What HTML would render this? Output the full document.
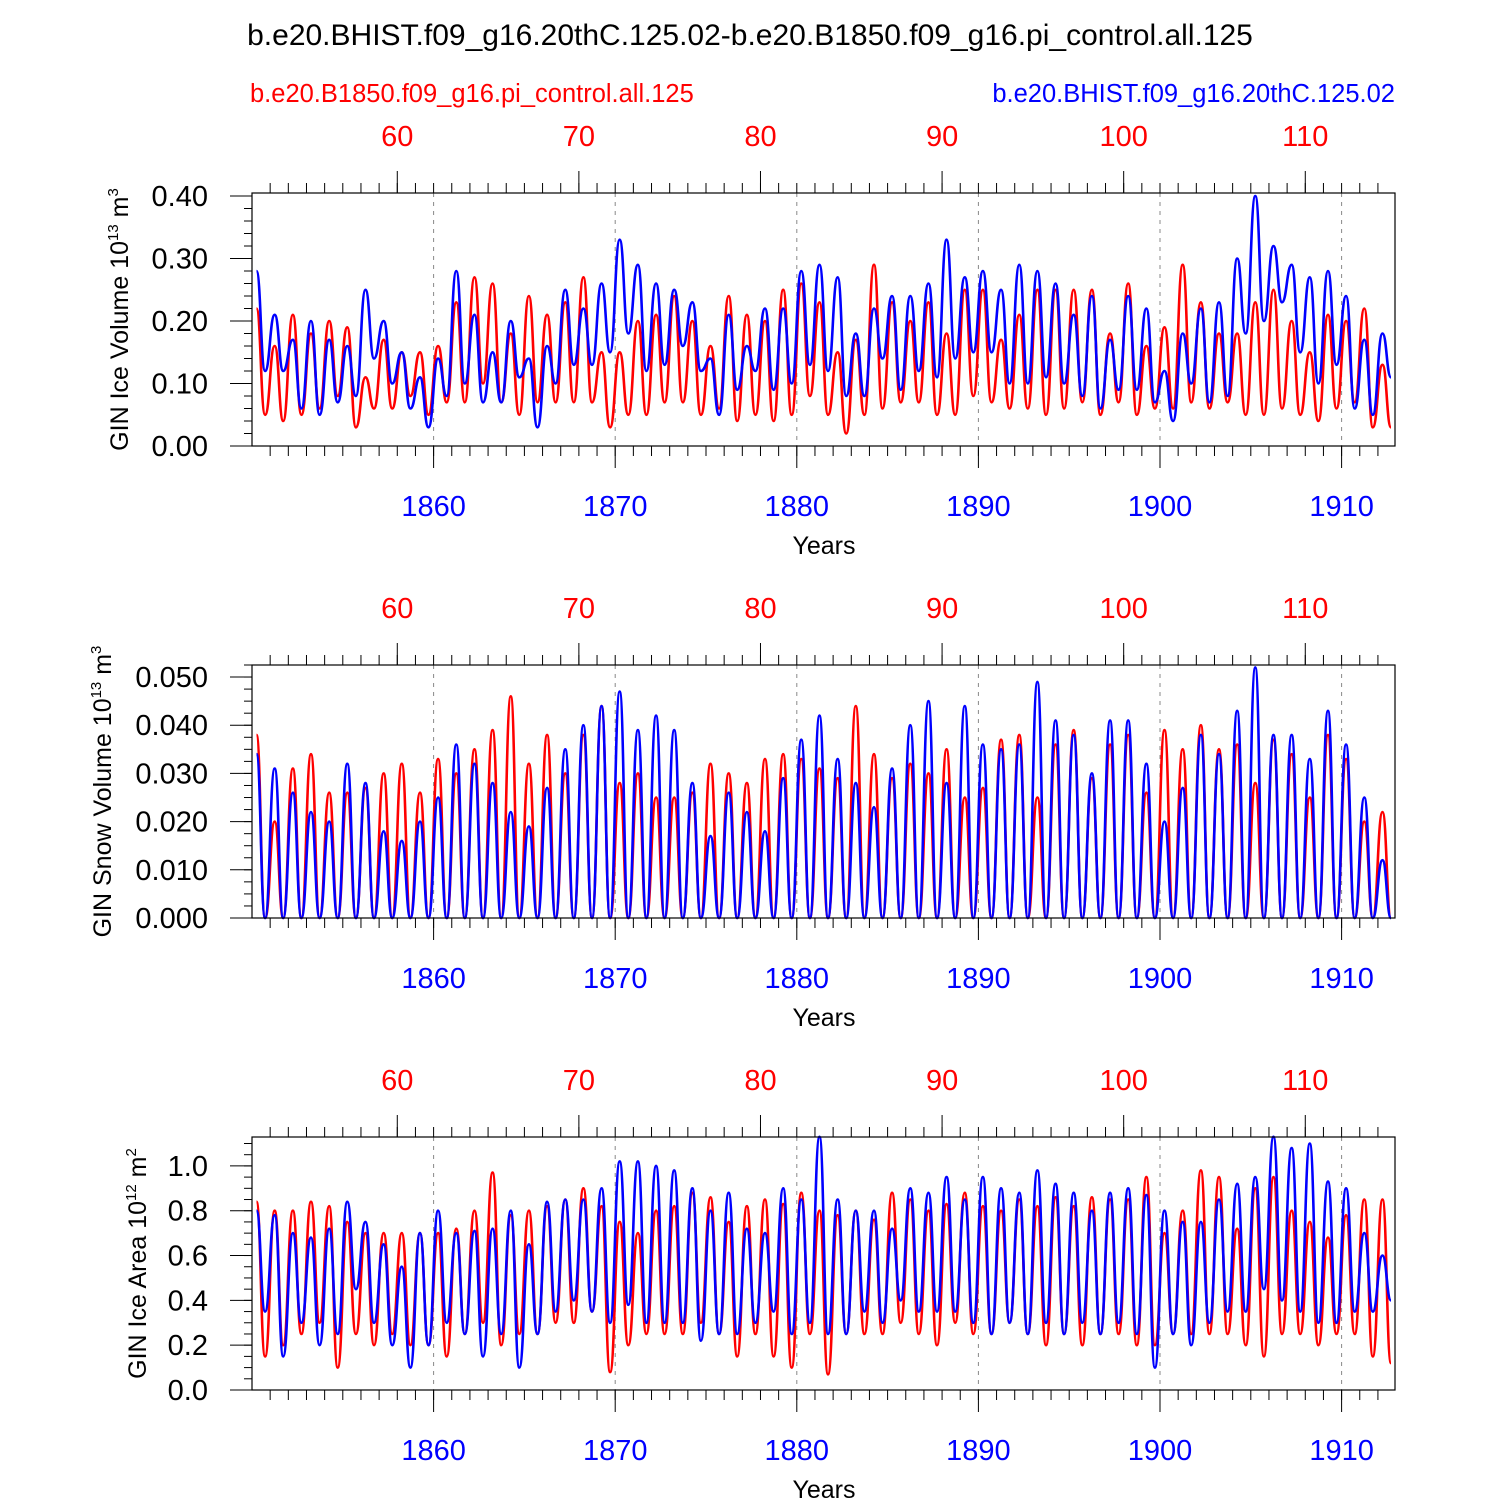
<!DOCTYPE html>
<html><head><meta charset="utf-8"><style>
body{margin:0;background:#fff;}
svg{display:block;font-family:"Liberation Sans",Arial,sans-serif;}
</style></head><body>
<svg id="chart" width="1500" height="1500" viewBox="0 0 1500 1500" xmlns="http://www.w3.org/2000/svg">
<text x="750" y="45" font-size="30" text-anchor="middle">b.e20.BHIST.f09_g16.20thC.125.02-b.e20.B1850.f09_g16.pi_control.all.125</text>
<text x="250" y="102" font-size="25.5" fill="#ff0000">b.e20.B1850.f09_g16.pi_control.all.125</text>
<text x="1395" y="102" font-size="25.5" fill="#0000ff" text-anchor="end">b.e20.BHIST.f09_g16.20thC.125.02</text>
<g id="plots"></g>
</svg>
<script>
const years = [1860,1870,1880,1890,1900,1910];
const modelYears = [60,70,80,90,100,110];
const iceVolTicks = [0,0.1,0.2,0.3,0.4];
const iceVolTickLabels = ["0.00","0.10","0.20","0.30","0.40"];
const snowTicks = [0,0.01,0.02,0.03,0.04,0.05];
const snowTickLabels = ["0.000","0.010","0.020","0.030","0.040","0.050"];
const areaTicks = [0,0.2,0.4,0.6,0.8,1.0];
const areaTickLabels = ["0.0","0.2","0.4","0.6","0.8","1.0"];

const iceVolBluePeak = [0.28,0.21,0.17,0.20,0.17,0.16,0.25,0.20,0.15,0.11,0.14,0.28,0.21,0.15,0.20,0.14,0.16,0.25,0.22,0.26,0.33,0.29,0.26,0.25,0.23,0.14,0.21,0.16,0.22,0.22,0.28,0.29,0.27,0.18,0.22,0.24,0.24,0.26,0.33,0.27,0.28,0.25,0.29,0.28,0.26,0.21,0.24,0.17,0.24,0.22,0.12,0.18,0.22,0.23,0.30,0.40,0.32,0.29,0.27,0.28,0.24,0.17,0.18];
const iceVolBlueTrough = [0.12,0.12,0.06,0.05,0.07,0.08,0.14,0.10,0.06,0.03,0.08,0.10,0.07,0.07,0.11,0.03,0.10,0.13,0.13,0.15,0.18,0.12,0.13,0.16,0.12,0.05,0.09,0.12,0.09,0.10,0.13,0.12,0.08,0.08,0.14,0.09,0.12,0.11,0.14,0.15,0.15,0.10,0.10,0.11,0.10,0.08,0.06,0.09,0.09,0.07,0.04,0.10,0.07,0.08,0.18,0.20,0.23,0.15,0.10,0.13,0.06,0.05,0.11];
const iceVolRedPeak = [0.22,0.16,0.21,0.18,0.20,0.19,0.11,0.17,0.15,0.15,0.16,0.23,0.27,0.26,0.18,0.24,0.21,0.23,0.27,0.15,0.15,0.20,0.21,0.24,0.20,0.16,0.24,0.21,0.20,0.25,0.26,0.23,0.15,0.17,0.29,0.23,0.20,0.23,0.18,0.25,0.25,0.17,0.21,0.25,0.25,0.25,0.25,0.18,0.26,0.16,0.19,0.29,0.23,0.18,0.18,0.23,0.25,0.20,0.15,0.21,0.20,0.22,0.13];
const iceVolRedTrough = [0.05,0.04,0.05,0.06,0.08,0.03,0.06,0.06,0.08,0.05,0.07,0.07,0.10,0.07,0.05,0.07,0.07,0.07,0.07,0.03,0.05,0.05,0.07,0.07,0.05,0.06,0.04,0.05,0.04,0.05,0.08,0.05,0.02,0.05,0.06,0.07,0.07,0.05,0.05,0.08,0.07,0.06,0.06,0.05,0.06,0.07,0.05,0.07,0.05,0.06,0.06,0.07,0.06,0.07,0.05,0.05,0.06,0.05,0.04,0.06,0.07,0.03,0.03];

const snowBluePeak = [0.034,0.031,0.026,0.022,0.020,0.032,0.028,0.018,0.016,0.020,0.025,0.036,0.032,0.028,0.022,0.019,0.027,0.035,0.040,0.044,0.047,0.039,0.042,0.039,0.028,0.017,0.026,0.022,0.018,0.029,0.037,0.042,0.033,0.028,0.023,0.031,0.040,0.045,0.028,0.044,0.036,0.035,0.036,0.049,0.041,0.038,0.030,0.041,0.041,0.032,0.020,0.027,0.038,0.034,0.043,0.052,0.038,0.038,0.033,0.043,0.036,0.025,0.012];
const snowBlueTrough = new Array(63).fill(0);
const snowRedPeak = [0.038,0.020,0.031,0.034,0.026,0.026,0.027,0.030,0.032,0.026,0.033,0.030,0.035,0.039,0.046,0.032,0.038,0.030,0.038,0.044,0.028,0.030,0.025,0.025,0.026,0.032,0.030,0.028,0.033,0.034,0.033,0.031,0.029,0.044,0.034,0.029,0.032,0.030,0.035,0.025,0.027,0.037,0.038,0.025,0.036,0.039,0.029,0.036,0.038,0.026,0.039,0.035,0.040,0.035,0.036,0.028,0.037,0.034,0.025,0.038,0.033,0.020,0.022];
const snowRedTrough = new Array(63).fill(0);

const areaBluePeak = [0.80,0.78,0.70,0.68,0.72,0.84,0.75,0.65,0.55,0.70,0.80,0.70,0.71,0.72,0.80,0.65,0.84,0.85,0.85,0.90,1.02,1.02,1.00,0.98,0.90,0.80,0.88,0.72,0.70,0.90,0.85,1.13,0.85,0.80,0.80,0.72,0.90,0.88,0.95,0.85,0.95,0.90,0.88,0.98,0.92,0.88,0.80,0.88,0.90,0.87,0.80,0.75,0.75,0.85,0.92,0.95,1.13,1.08,1.10,0.93,0.90,0.70,0.60];
const areaBlueTrough = [0.35,0.15,0.30,0.20,0.25,0.45,0.30,0.20,0.10,0.20,0.30,0.25,0.15,0.25,0.10,0.25,0.35,0.40,0.35,0.30,0.38,0.30,0.30,0.30,0.22,0.25,0.25,0.30,0.35,0.25,0.30,0.25,0.25,0.35,0.30,0.40,0.35,0.35,0.35,0.30,0.25,0.30,0.25,0.30,0.25,0.30,0.25,0.30,0.25,0.10,0.25,0.20,0.30,0.35,0.35,0.45,0.40,0.35,0.30,0.30,0.35,0.35,0.40];
const areaRedPeak = [0.84,0.80,0.80,0.84,0.82,0.75,0.70,0.70,0.70,0.70,0.70,0.72,0.80,0.97,0.78,0.80,0.82,0.85,0.90,0.82,0.75,0.70,0.80,0.82,0.88,0.86,0.75,0.82,0.85,0.83,0.88,0.80,0.78,0.80,0.76,0.88,0.85,0.80,0.83,0.88,0.82,0.80,0.85,0.82,0.86,0.82,0.86,0.85,0.85,0.95,0.70,0.80,0.98,0.95,0.72,0.90,0.95,0.80,0.75,0.68,0.78,0.85,0.85];
const areaRedTrough = [0.15,0.20,0.25,0.30,0.10,0.25,0.20,0.25,0.20,0.20,0.15,0.25,0.30,0.20,0.25,0.25,0.30,0.30,0.35,0.08,0.20,0.25,0.25,0.25,0.30,0.25,0.15,0.25,0.15,0.10,0.25,0.07,0.25,0.25,0.25,0.30,0.25,0.20,0.30,0.25,0.25,0.30,0.25,0.20,0.25,0.20,0.25,0.25,0.20,0.20,0.25,0.25,0.25,0.25,0.20,0.15,0.25,0.25,0.20,0.25,0.25,0.15,0.12];

const NS="http://www.w3.org/2000/svg";
const root=document.getElementById('plots');
const X0=252,X1=1395,Y_START=1850,Y_END=1850+1143/18.16;
function xs(yr){return X0+(yr-Y_START)*(X1-X0)/(Y_END-Y_START);}
function mk(tag,attrs,parent){const e=document.createElementNS(NS,tag);for(const k in attrs)e.setAttribute(k,attrs[k]);(parent||root).appendChild(e);return e;}

const panels=[
 {top:193,bot:446,ymax:0.4048,ticks:iceVolTicks,labels:iceVolTickLabels,minor:0.02,name:"ice-volume",ylab:"GIN Ice Volume 10",exp1:"13",unit:" m",exp2:"3",labX:128,blue:[iceVolBluePeak,iceVolBlueTrough],red:[iceVolRedPeak,iceVolRedTrough]},
 {top:665,bot:918,ymax:0.0525,ticks:snowTicks,labels:snowTickLabels,minor:0.0025,name:"snow-volume",ylab:"GIN Snow Volume 10",exp1:"13",unit:" m",exp2:"3",labX:111,blue:[snowBluePeak,snowBlueTrough],red:[snowRedPeak,snowRedTrough]},
 {top:1137,bot:1390,ymax:1.129,ticks:areaTicks,labels:areaTickLabels,minor:0.05,name:"ice-area",ylab:"GIN Ice Area 10",exp1:"12",unit:" m",exp2:"2",labX:146,blue:[areaBluePeak,areaBlueTrough],red:[areaRedPeak,areaRedTrough]}
];

panels.forEach(p=>{
 const g=mk('g',{});
 
 
 const ys=v=>p.bot-v*(p.bot-p.top)/p.ymax;
 years.forEach(yr=>{const l=mk('line',{x1:xs(yr),x2:xs(yr),y1:p.top,y2:p.bot,stroke:'#888','stroke-width':1,'stroke-dasharray':'4,5'},g);
  });
 [[p.red,'#ff0000','red'],[p.blue,'#0000ff','blue']].forEach(([s,col,nm])=>{
  const pk=s[0],tr=s[1];let pts=[];
  const n=Math.min(pk.length,tr.length,63);
  for(let i=0;i<n;i++){
   pts.push([xs(Y_START+i+0.25),ys(pk[i])]);
   pts.push([xs(Y_START+i+0.72),ys(tr[i])]);
  }
  pts=pts.filter(q=>q[0]>=X0&&q[0]<=X1);
  let d='M'+pts[0][0].toFixed(1)+','+pts[0][1].toFixed(1);
  for(let i=0;i<pts.length-1;i++){
   const a=pts[i],b=pts[i+1],mx=(a[0]+b[0])/2;
   d+=' C'+mx.toFixed(1)+','+a[1].toFixed(1)+' '+mx.toFixed(1)+','+b[1].toFixed(1)+' '+b[0].toFixed(1)+','+b[1].toFixed(1);
  }
  const path=mk('path',{d:d,fill:'none',stroke:col,'stroke-width':2.6},g);
  
  
 });
 const fr=mk('rect',{x:X0,y:p.top,width:X1-X0,height:p.bot-p.top,fill:'none',stroke:'#000','stroke-width':1.2},g);
 
 for(let v=0;v<=p.ymax+1e-9;v+=p.minor){const y=ys(v);mk('line',{x1:X0-8,x2:X0,y1:y,y2:y,stroke:'#000','stroke-width':1},g);}
 p.ticks.forEach((v,i)=>{const y=ys(v);mk('line',{x1:X0-22,x2:X0,y1:y,y2:y,stroke:'#000','stroke-width':1},g);
  const t=mk('text',{x:X0-44,y:y+10,'font-size':29,'text-anchor':'end'},g);t.textContent=p.labels[i];
  });
 for(let yr=1851;yr<=1913;yr++){const x=xs(yr);if(x>X1)break;
  mk('line',{x1:x,x2:x,y1:p.bot,y2:p.bot+10,stroke:'#000','stroke-width':1},g);}
 years.forEach(yr=>{const x=xs(yr);mk('line',{x1:x,x2:x,y1:p.bot,y2:p.bot+22,stroke:'#000','stroke-width':1},g);
  const t=mk('text',{x:x,y:p.bot+70,'font-size':29,'text-anchor':'middle',fill:'#0000ff'},g);t.textContent=yr;
  });
 for(let m=53;m<=115;m++){const x=xs(m+1798);if(x<X0||x>X1)continue;
  mk('line',{x1:x,x2:x,y1:p.top-10,y2:p.top,stroke:'#000','stroke-width':1},g);}
 modelYears.forEach(m=>{const x=xs(m+1798);mk('line',{x1:x,x2:x,y1:p.top-22,y2:p.top,stroke:'#000','stroke-width':1},g);
  const t=mk('text',{x:x,y:p.top-47,'font-size':29,'text-anchor':'middle',fill:'#ff0000'},g);t.textContent=m;
  });
 const xl=mk('text',{x:824,y:p.bot+108,'font-size':25,'text-anchor':'middle'},g);xl.textContent='Years';
 
 const yl=mk('text',{x:0,y:0,'font-size':25,'text-anchor':'middle',transform:'translate('+p.labX+','+(p.top+p.bot)/2+') rotate(-90)'},g);
 
 const s1=document.createElementNS(NS,'tspan');s1.textContent=p.ylab;yl.appendChild(s1);
 const s2=document.createElementNS(NS,'tspan');s2.setAttribute('dy','-10');s2.setAttribute('font-size','15');s2.textContent=p.exp1;yl.appendChild(s2);
 const s3=document.createElementNS(NS,'tspan');s3.setAttribute('dy','10');s3.textContent=p.unit;yl.appendChild(s3);
 const s4=document.createElementNS(NS,'tspan');s4.setAttribute('dy','-10');s4.setAttribute('font-size','15');s4.textContent=p.exp2;yl.appendChild(s4);
});
</script>
</body></html>
